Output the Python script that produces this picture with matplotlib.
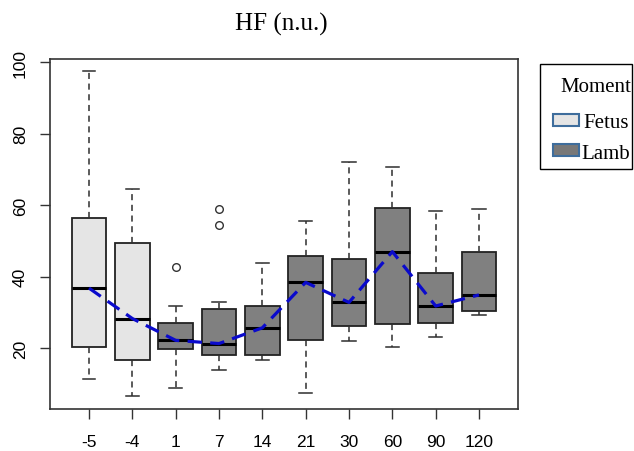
import matplotlib
matplotlib.use("Agg")
import matplotlib.pyplot as plt
from matplotlib.patches import Rectangle

groups = ["-5", "-4", "1", "7", "14", "21", "30", "60", "90", "120"]
moment = ["Fetus", "Fetus", "Lamb", "Lamb", "Lamb", "Lamb", "Lamb", "Lamb", "Lamb", "Lamb"]
whisker_low = [11.3, 6.6, 8.8, 13.8, 16.6, 7.4, 22.0, 20.4, 23.1, 29.3]
q1 = [20.2, 16.8, 19.9, 18.0, 18.0, 22.4, 26.2, 26.7, 27.1, 30.3]
median = [36.8, 28.3, 22.2, 21.3, 25.7, 38.4, 32.8, 47.0, 31.8, 34.9]
q3 = [56.4, 49.4, 27.0, 30.9, 31.7, 45.7, 44.9, 59.3, 40.9, 46.8]
whisker_high = [97.6, 64.4, 31.8, 32.8, 43.7, 55.7, 72.2, 70.6, 58.4, 58.9]
outliers = [[], [], [42.6], [58.9, 54.5], [], [], [], [], [], []]

colors = {"Fetus": "#e5e5e5", "Lamb": "#808080"}
legend_colors = {"Fetus": "#e5e5e5", "Lamb": "#787878"}

stats = []
for i, g in enumerate(groups):
    stats.append({"label": g, "whislo": whisker_low[i], "q1": q1[i], "med": median[i],
                  "q3": q3[i], "whishi": whisker_high[i], "fliers": outliers[i]})

W, H = 634, 452
fig = plt.figure(figsize=(W / 100, H / 100), dpi=100)
ax = fig.add_axes([50 / W, 42 / H, 468 / W, 350.5 / H])

pos = list(range(1, len(groups) + 1))
bp = ax.bxp(stats, positions=pos, widths=0.8, patch_artist=True, capwidths=0.3,
            boxprops=dict(edgecolor="#222222", linewidth=1.3),
            medianprops=dict(color="black", linewidth=2.2, solid_capstyle="butt"),
            whiskerprops=dict(color="#2e2e2e", linewidth=1.1, linestyle=(0, (4, 3))),
            capprops=dict(color="#2e2e2e", linewidth=1.1),
            flierprops=dict(marker="o", markerfacecolor="none", markeredgecolor="#333333",
                            markersize=5.5, markeredgewidth=1.0))
for patch, m in zip(bp["boxes"], moment):
    patch.set_facecolor(colors[m])

ax.plot(pos, median, color="#0a0acc", linewidth=2.3, dashes=(4.5, 2.6), zorder=5)

ax.set_xlim(0.1, 10.9)
ax.set_ylim(3.0, 101.0)
ax.set_yticks([20, 40, 60, 80, 100])
ax.set_xticks(pos)
ax.set_xticklabels(groups)
for lab in ax.get_yticklabels():
    lab.set_rotation(90)
    lab.set_va("center")
ax.tick_params(axis="both", length=7, width=1.0, color="#333333", labelsize=12.5,
               labelcolor="black")
ax.tick_params(axis="x", pad=11)
ax.tick_params(axis="y", pad=9)
for s in ax.spines.values():
    s.set_color("#333333")
    s.set_linewidth(1.2)
for lab in ax.get_xticklabels() + ax.get_yticklabels():
    lab.set_family("Liberation Sans")

fig.text(281 / W, 1 - 31 / H, "HF (n.u.)", ha="center", va="baseline",
         fontsize=18, family="Liberation Serif")

# legend box, laid out like the pasted one in the reference
serif = dict(family="Liberation Serif", fontsize=15, va="baseline", ha="left")
fig.add_artist(Rectangle((540 / W, 1 - 170 / H), 92 / W, 105 / H, transform=fig.transFigure,
                         facecolor="white", edgecolor="black", linewidth=1.0))
fig.text(560 / W, 1 - 92 / H, "Moment", **serif)
legend_rows = [("Fetus", 115, 583, 128), ("Lamb", 145, 581, 159)]
for name, top, tx, base in legend_rows:
    fig.add_artist(Rectangle((553 / W, 1 - (top + 12) / H), 26 / W, 12 / H,
                             transform=fig.transFigure, facecolor=legend_colors[name],
                             edgecolor="#3e6d9c", linewidth=1.5))
    fig.text(tx / W, 1 - base / H, name, **serif)

fig.savefig("out.png", dpi=100)
